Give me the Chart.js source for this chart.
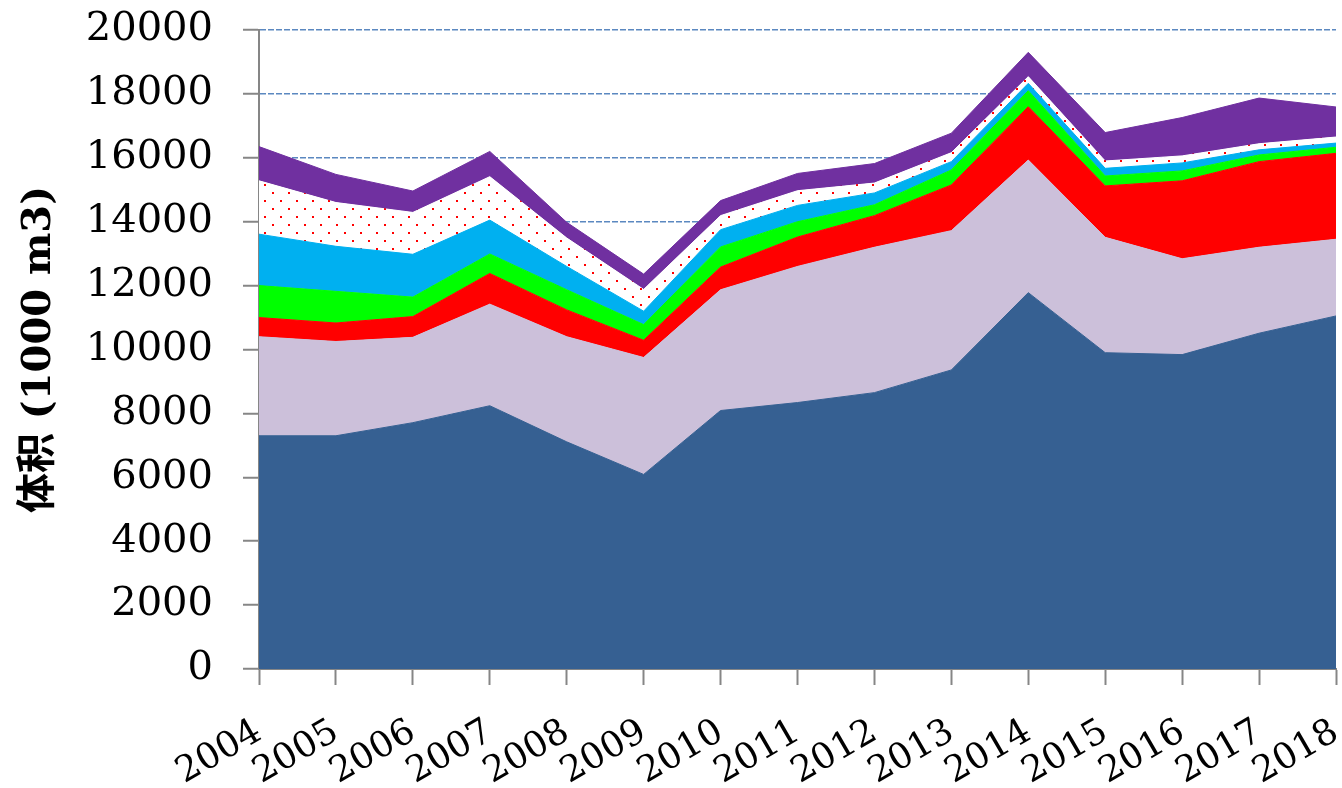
<!DOCTYPE html>
<html>
<head>
<meta charset="utf-8">
<title>体积</title>
<script src="https://cdn.jsdelivr.net/npm/chart.js@4"></script>
<style>
    body { margin: 0; background: #ffffff; }
    #chart-box { width: 1342px; height: 788px; }
</style>
</head>
<body>
<div id="chart-box"><canvas id="volume-chart"></canvas></div>
<script>
const years = ['2004', '2005', '2006', '2007', '2008', '2009', '2010', '2011',
    '2012', '2013', '2014', '2015', '2016', '2017', '2018'];

// stacked from bottom to top
const series1 = [7300, 7300, 7710, 8240, 7110, 6090, 8090, 8340, 8650, 9360, 11780, 9900, 9840, 10510, 11050];
const series2 = [3100, 2950, 2670, 3180, 3290, 3660, 3780, 4260, 4550, 4360, 4150, 3610, 3000, 2690, 2400];
const series3 = [600, 580, 650, 960, 840, 540, 710, 920, 990, 1430, 1670, 1610, 2440, 2680, 2690];
const series4 = [1000, 990, 610, 610, 630, 490, 630, 480, 340, 470, 500, 310, 310, 210, 190];
const series5 = [1610, 1410, 1340, 1060, 730, 420, 540, 510, 370, 260, 230, 240, 250, 160, 130];
const series6 = [1670, 1370, 1310, 1360, 890, 680, 440, 460, 310, 280, 210, 230, 220, 190, 190];
const series7 = [1070, 880, 670, 790, 490, 480, 470, 540, 610, 610, 760, 890, 1200, 1430, 940];

const yTicks = [0, 2000, 4000, 6000, 8000, 10000, 12000, 14000, 16000, 18000, 20000];

function dotPattern() {
    const c = document.createElement('canvas');
    c.width = 16;
    c.height = 16;
    const g = c.getContext('2d');
    g.fillStyle = '#ffffff';
    g.fillRect(0, 0, 16, 16);
    g.fillStyle = '#ff0000';
    g.fillRect(0, 0, 2, 2);
    g.fillRect(8, 8, 2, 2);
    return g.createPattern(c, 'repeat');
}

function area(label, data, color, fill) {
    return {
        label: label,
        data: data,
        backgroundColor: color,
        borderColor: color,
        borderWidth: 1,
        pointRadius: 0,
        tension: 0,
        fill: fill
    };
}

function drawChart() {
    const ctx = document.getElementById('volume-chart').getContext('2d');
    const dots = dotPattern();

    window.volumeChart = new Chart(ctx, {
        type: 'line',
        data: {
            labels: years,
            datasets: [
                area('系列1', series1, '#366092', 'origin'),
                area('系列2', series2, '#ccc0da', '-1'),
                area('系列3', series3, '#ff0000', '-1'),
                area('系列4', series4, '#00ff00', '-1'),
                area('系列5', series5, '#00b0f0', '-1'),
                area('系列6', series6, dots, '-1'),
                area('系列7', series7, '#7030a0', '-1')
            ]
        },
        options: {
            responsive: true,
            maintainAspectRatio: false,
            animation: false,
            layout: { padding: { left: 20, right: 6, top: 30, bottom: 0 } },
            plugins: {
                legend: { display: false },
                tooltip: { enabled: false }
            },
            scales: {
                x: {
                    offset: false,
                    afterFit: (scale) => {
                        scale.height = 119;
                        scale.paddingLeft = 0;
                        scale.paddingRight = 0;
                    },
                    grid: {
                        drawOnChartArea: false,
                        tickLength: 16,
                        color: '#868686',
                        tickWidth: 2
                    },
                    border: { color: '#868686', width: 2 },
                    ticks: {
                        autoSkip: false,
                        minRotation: 30,
                        maxRotation: 30,
                        padding: 26,
                        color: '#000000',
                        font: { family: 'DejaVu Serif', size: 36 }
                    }
                },
                y: {
                    stacked: true,
                    min: 0,
                    max: 20000,
                    afterFit: (scale) => {
                        scale.width = 239;
                        scale.paddingTop = 0;
                        scale.paddingBottom = 0;
                    },
                    afterBuildTicks: (scale) => {
                        scale.ticks = yTicks.map(v => ({ value: v }));
                    },
                    grid: {
                        color: '#5b88c0',
                        lineWidth: 1.5,
                        tickLength: 16,
                        tickColor: '#868686',
                        tickWidth: 2
                    },
                    border: { color: '#868686', width: 2, dash: [6, 2] },
                    ticks: {
                        padding: 30,
                        color: '#000000',
                        font: { family: 'DejaVu Serif', size: 40 },
                        callback: (value) => String(value)
                    },
                    title: {
                        display: true,
                        text: '体积 (1000 m3)',
                        color: '#000000',
                        padding: { top: 0, bottom: 0 },
                        font: { family: "'DejaVu Serif', 'Noto Sans CJK SC'", size: 40, weight: 'bold', lineHeight: 1 }
                    }
                }
            }
        }
    });
}

document.addEventListener('DOMContentLoaded', () => {
    drawChart();
});
</script>
</body>
</html>
